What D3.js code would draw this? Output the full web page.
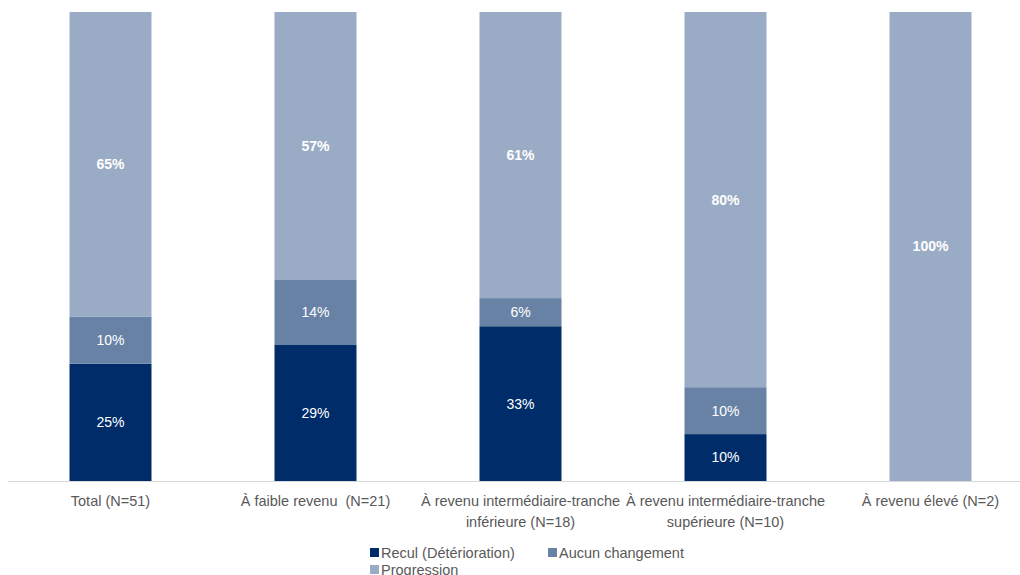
<!DOCTYPE html>
<html><head><meta charset="utf-8">
<script src="https://cdn.jsdelivr.net/npm/d3@7"></script>
<style>body{margin:0;background:#fff}svg{display:block}</style>
</head><body>
<svg id="c" width="1020" height="575"></svg>
<script>
const categories = [
  ["Total (N=51)"],
  ["À faible revenu  (N=21)"],
  ["À revenu intermédiaire-tranche", "inférieure (N=18)"],
  ["À revenu intermédiaire-tranche", "supérieure (N=10)"],
  ["À revenu élevé (N=2)"]
];
const seriesNames = ["Recul (Détérioration)", "Aucun changement", "Progression"];
const recul = [25, 29, 33, 10, 0];
const aucun = [10, 14, 6, 10, 0];
const progression = [65, 57, 61, 80, 100];
const colors = ["#002D6A", "#6882A6", "#9AABC5"];

const svg = d3.select("#c");
const m = {left: 8, right: 1033, top: 12, bottom: 481};
const x = d3.scaleBand().domain(d3.range(categories.length)).range([m.left, m.right]).paddingInner(0.6).paddingOuter(0.3);
const y = d3.scaleLinear().domain([0, 100]).range([m.bottom, m.top]);

const rows = categories.map((c, i) => ({i, r: recul[i], a: aucun[i], p: progression[i]}));
const stack = d3.stack().keys(["r", "a", "p"])(rows);

stack.forEach((layer, k) => {
  const g = svg.append("g");
  layer.forEach((d, i) => {
    const v = d[1] - d[0];
    if (v <= 0) return;
    g.append("rect").attr("x", x(i)).attr("width", x.bandwidth())
      .attr("y", y(d[1])).attr("height", y(d[0]) - y(d[1])).attr("fill", colors[k]);
    g.append("text").attr("x", x(i) + x.bandwidth() / 2)
      .attr("y", (y(d[0]) + y(d[1])) / 2).attr("dy", "0.35em")
      .attr("text-anchor", "middle").attr("fill", "#fff")
      .attr("font-family", "Liberation Sans, Arial, sans-serif").attr("font-size", 14)
      .attr("font-weight", k === 2 ? "bold" : "normal")
      .text(v + "%");
  });
});

// axis
const ax = svg.append("g").attr("transform", `translate(0,${m.bottom})`)
  .call(d3.axisBottom(x).tickSize(0).tickFormat(""));
ax.select(".domain").attr("stroke", "#d9d9d9").attr("d", `M${m.left},0.5H1020`);

categories.forEach((lines, i) => {
  const t = svg.append("text").attr("x", x(i) + x.bandwidth() / 2).attr("y", 506)
    .attr("text-anchor", "middle").attr("fill", "#595959")
    .attr("font-family", "Liberation Sans Narrow, Arial Narrow, sans-serif").attr("font-size", 14.5)
    .style("white-space", "pre");
  lines.forEach((l, j) => t.append("tspan").attr("x", x(i) + x.bandwidth() / 2).attr("dy", j ? 21 : 0).text(l));
});

// legend
const legPos = [[370, 558], [548, 558], [370, 575]];
seriesNames.forEach((n, k) => {
  const [lx, ly] = legPos[k];
  svg.append("rect").attr("x", lx).attr("y", ly - 10).attr("width", 9).attr("height", 9).attr("fill", colors[k]);
  svg.append("text").attr("x", lx + 11).attr("y", ly).attr("fill", "#595959")
    .attr("font-family", "Liberation Sans, Arial, sans-serif").attr("font-size", 14.5).text(n);
});
</script>
</body></html>
